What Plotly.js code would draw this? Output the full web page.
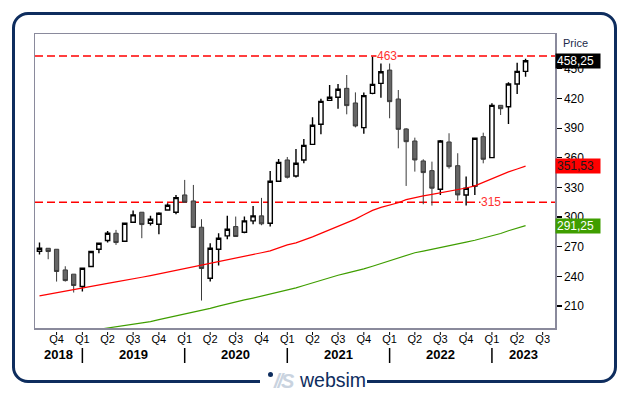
<!DOCTYPE html>
<html>
<head>
<meta charset="utf-8">
<script src="https://cdn.plot.ly/plotly-3.0.1.min.js"></script>
<style>
  html, body { margin: 0; padding: 0; background: #ffffff; }
  #wrap { position: relative; width: 629px; height: 395px; overflow: hidden; }
  #chart { position: absolute; left: 0; top: 0; width: 629px; height: 395px; }
  #frame { position: absolute; left: 12px; top: 12px; width: 605px; height: 371px;
           border: 3.3px solid #0e2d5e; border-radius: 16px; box-sizing: border-box; pointer-events: none; }
  #logo { position: absolute; left: 260px; top: 368px; width: 107px; height: 26px; background: #ffffff;
          font-family: "Liberation Sans", Arial, sans-serif; white-space: nowrap; }
  #logo .dot { position: absolute; left: 8px; top: 4px; width: 5px; height: 5px; border-radius: 50%; background: #0e2d5e; }
  #logo .vs { position: absolute; left: 14px; top: 2px; font-size: 20px; font-style: italic; font-weight: bold; color: #c9d3df; letter-spacing: -2px; }
  #logo .name { position: absolute; left: 40px; top: 1px; font-size: 19.5px; color: #0e2d5e; }
</style>
</head>
<body>
<div id="wrap">
  <div id="chart"></div>
  <div id="frame"></div>
  <div id="logo"><span class="dot"></span><span class="vs">//S</span><span class="name">websim</span></div>
</div>
<script>
// ---- data (monthly candles) ----
const months = ['2018-08-01','2018-09-01','2018-10-01','2018-11-01','2018-12-01',
  '2019-01-01','2019-02-01','2019-03-01','2019-04-01','2019-05-01','2019-06-01','2019-07-01','2019-08-01','2019-09-01','2019-10-01','2019-11-01','2019-12-01',
  '2020-01-01','2020-02-01','2020-03-01','2020-04-01','2020-05-01','2020-06-01','2020-07-01','2020-08-01','2020-09-01','2020-10-01','2020-11-01','2020-12-01',
  '2021-01-01','2021-02-01','2021-03-01','2021-04-01','2021-05-01','2021-06-01','2021-07-01','2021-08-01','2021-09-01','2021-10-01','2021-11-01','2021-12-01',
  '2022-01-01','2022-02-01','2022-03-01','2022-04-01','2022-05-01','2022-06-01','2022-07-01','2022-08-01','2022-09-01','2022-10-01','2022-11-01','2022-12-01',
  '2023-01-01','2023-02-01','2023-03-01','2023-04-01','2023-05-01'];

const openV = [265.4,268.4,267.4,246.5,242.2,
  229.7,249.9,267.4,276.2,283.6,275.5,294.8,304.9,293.7,292.7,307.2,304.9,
  322.4,316.3,289.7,238.1,267.4,281.0,290.4,284.6,296.1,301.2,293.7,336.2,
  357.8,341.6,357.8,373.6,393.9,418.1,421.2,430.3,415.5,390.5,425.2,435.3,
  448.8,419.5,389.2,377.0,356.8,347.0,328.1,376.0,352.0,322.4,331.5,381.4,
  360.2,413.1,411.7,434.7,447.5];
const highV = [274.2,268.5,267.5,250.2,242.2,
  248.3,265.8,274.2,286.0,287.0,294.4,306.6,304.9,301.2,304.9,314.0,322.4,
  337.6,332.5,297.8,273.5,283.6,301.2,300.5,300.5,311.3,319.4,346.7,358.8,
  360.8,368.9,379.0,401.0,419.8,433.7,434.7,443.8,426.2,426.2,462.3,456.3,
  463.0,428.6,390.0,380.4,358.5,356.1,378.0,384.8,364.6,341.0,380.0,385.4,
  415.1,413.1,436.4,456.3,460.3];
const lowV = [262.1,257.3,234.7,234.7,223.6,
  224.6,249.2,263.4,274.2,271.8,275.5,294.8,278.6,291.4,282.6,306.6,302.9,
  315.0,289.4,215.5,234.7,250.9,277.6,280.3,283.6,292.7,291.7,290.4,335.5,
  339.0,340.0,354.4,373.6,383.8,418.1,409.7,404.0,390.8,384.4,424.2,420.8,
  400.0,369.6,331.5,346.0,313.0,311.6,322.4,349.0,316.7,311.6,322.4,354.4,
  360.2,403.3,394.2,424.6,442.1];
const closeV = [268.4,265.1,244.9,235.7,230.7,
  248.2,265.1,273.5,283.6,274.2,293.7,302.2,292.4,297.8,303.9,312.0,319.7,
  315.0,289.4,247.9,268.5,278.6,287.7,280.3,296.1,301.2,293.1,336.2,355.4,
  340.3,354.4,372.6,392.9,417.1,421.2,429.3,412.8,392.2,422.9,434.3,447.1,
  416.8,388.8,376.3,357.8,345.0,329.2,377.0,351.0,322.4,329.2,379.7,358.5,
  413.1,409.7,434.7,447.5,458.25];

// moving averages (red = shorter, green = longer)
const maRed = [220.2,221.9,223.6,225.3,227.0,
  228.7,230.1,231.5,232.9,234.3,235.7,237.4,239.1,240.8,242.5,244.3,246.0,
  247.7,249.4,251.1,252.8,254.5,256.3,258.2,260.1,262.0,263.9,265.8,268.9,
  271.8,273.9,276.5,279.9,283.5,287.2,290.8,294.3,297.9,302.4,306.8,309.8,
  312.0,314.5,317.7,319.8,321.4,323.0,324.4,325.9,327.4,329.4,331.6,335.3,
  338.9,342.5,345.7,348.6,351.53];
const maGreen = [177.3,178.6,179.9,181.2,182.5,
  183.8,185.1,186.4,187.7,189.0,190.4,191.7,193.0,194.2,196.1,198.0,199.8,
  201.7,203.5,205.4,207.6,209.9,212.2,214.2,216.1,218.0,219.9,221.8,224.0,
  226.1,228.3,230.7,233.4,236.0,238.7,241.1,243.2,245.2,247.5,250.2,252.9,
  255.7,258.4,261.2,263.9,265.6,267.3,269.0,270.7,272.6,274.6,276.5,278.6,
  281.0,283.4,286.1,288.7,291.25];

const levels = [463, 315];
const levelLabelAt = ['2021-12-22', '2022-12-30'];
const lastTags = [
  {value: 458.25, text: '458,25', bg: '#000000', fg: '#ffffff'},
  {value: 351.53, text: '351,53', bg: '#ff0000', fg: '#1a1a1a'},
  {value: 291.25, text: '291,25', bg: '#3f9e00', fg: '#ffffff'}
];

const quarterTicks = ['2018-10-01','2019-01-01','2019-04-01','2019-07-01','2019-10-01',
  '2020-01-01','2020-04-01','2020-07-01','2020-10-01','2021-01-01','2021-04-01','2021-07-01','2021-10-01',
  '2022-01-01','2022-04-01','2022-07-01','2022-10-01','2023-01-01','2023-04-01','2023-07-01'];
const quarterLabels = ['Q4','Q1','Q2','Q3','Q4','Q1','Q2','Q3','Q4','Q1','Q2','Q3','Q4',
  'Q1','Q2','Q3','Q4','Q1','Q2','Q3'];
const years = [2018, 2019, 2020, 2021, 2022, 2023];
const yTicks = [210, 240, 270, 300, 330, 360, 390, 420, 450];

// ---- chart ----
const FONT = '"Liberation Sans", Arial, sans-serif';
const xRange = ['2018-07-16', '2023-08-14'];
const yRange = [187.7, 485.3];

const traces = [
  {
    type: 'scatter', mode: 'lines', x: months, y: maGreen,
    line: {color: '#3f9e00', width: 1.2}, hoverinfo: 'skip'
  },
  {
    type: 'scatter', mode: 'lines', x: months, y: maRed,
    line: {color: '#ff0000', width: 1.2}, hoverinfo: 'skip'
  },
  {
    type: 'candlestick', x: months, open: openV, high: highV, low: lowV, close: closeV,
    increasing: {line: {color: '#000000', width: 1.4}, fillcolor: '#ffffff'},
    decreasing: {line: {color: '#3a3a3a', width: 1}, fillcolor: '#666666'},
    whiskerwidth: 0, hoverinfo: 'skip'
  }
];

const shapes = [];
const annotations = [];
const plotH = 395 - 34 - 67;

levels.forEach((lv, i) => {
  shapes.push({type: 'line', xref: 'paper', x0: 0, x1: 1, yref: 'y', y0: lv, y1: lv,
    line: {color: '#ff0000', width: 1.4, dash: '8px,4px'}, layer: 'below'});
  annotations.push({xref: 'x', x: levelLabelAt[i], yref: 'y', y: lv, text: String(lv),
    showarrow: false, bgcolor: '#ffffff', borderpad: 0,
    font: {family: FONT, size: 12, color: '#ff3030'}});
});

// small detached quarter tick marks
quarterTicks.forEach((q) => {
  shapes.push({type: 'line', xref: 'x', x0: q, x1: q, yref: 'paper',
    y0: -4 / plotH, y1: -7 / plotH, line: {color: '#000000', width: 1}});
});

// year separators and labels
const t0 = Date.parse(xRange[0]), t1 = Date.parse(xRange[1]);
years.forEach((yr) => {
  const ys = Date.parse(yr + '-01-01'), ye = Date.parse((yr + 1) + '-01-01');
  const a = Math.max(ys, t0), b = Math.min(ye, t1);
  const mid = new Date((a + b) / 2).toISOString().slice(0, 10);
  annotations.push({xref: 'x', x: mid, yref: 'paper', y: -26 / plotH, yanchor: 'middle',
    text: '<b>' + yr + '</b>', showarrow: false, font: {family: FONT, size: 13, color: '#000000'}});
  if (ys > t0) {
    shapes.push({type: 'line', xref: 'x', x0: yr + '-01-01', x1: yr + '-01-01', yref: 'paper',
      y0: -20 / plotH, y1: -35 / plotH, line: {color: '#000000', width: 1.5}});
  }
});

// price tags at the right
lastTags.forEach((t) => {
  annotations.push({xref: 'paper', x: 1, xanchor: 'left', yref: 'y', y: t.value, yanchor: 'middle',
    text: t.text, showarrow: false, bgcolor: t.bg, width: 42, height: 12, align: 'left', borderpad: 1,
    font: {family: FONT, size: 12, color: t.fg}});
});
annotations.push({xref: 'paper', x: 1, xanchor: 'left', xshift: 6, yref: 'paper', y: 1, yanchor: 'top', yshift: -1,
  text: 'Price', showarrow: false, font: {family: FONT, size: 11, color: '#1c2a4a'}});

const layout = {
  width: 629, height: 395,
  margin: {l: 35, r: 74, t: 34, b: 67, pad: 0},
  paper_bgcolor: 'rgba(0,0,0,0)', plot_bgcolor: '#ffffff',
  showlegend: false, boxgap: 0.22,
  font: {family: FONT, size: 11, color: '#000000'},
  xaxis: {
    type: 'date', range: xRange, rangeslider: {visible: false},
    tickmode: 'array', tickvals: quarterTicks, ticktext: quarterLabels,
    ticks: '', ticklen: 0,
    tickfont: {family: FONT, size: 11, color: '#000000'},
    showgrid: false, zeroline: false,
    showline: true, mirror: true, linecolor: '#8a8a9c', linewidth: 1.5
  },
  yaxis: {
    side: 'right', range: yRange, tickmode: 'array', tickvals: yTicks,
    ticks: 'outside', ticklen: 5, tickwidth: 1.2, tickcolor: '#000000',
    tickfont: {family: FONT, size: 12, color: '#000000'},
    showgrid: false, zeroline: false,
    showline: true, mirror: true, linecolor: '#8a8a9c', linewidth: 1.5
  },
  shapes: shapes,
  annotations: annotations
};

Plotly.newPlot('chart', traces, layout, {staticPlot: true, displayModeBar: false});
</script>
</body>
</html>
